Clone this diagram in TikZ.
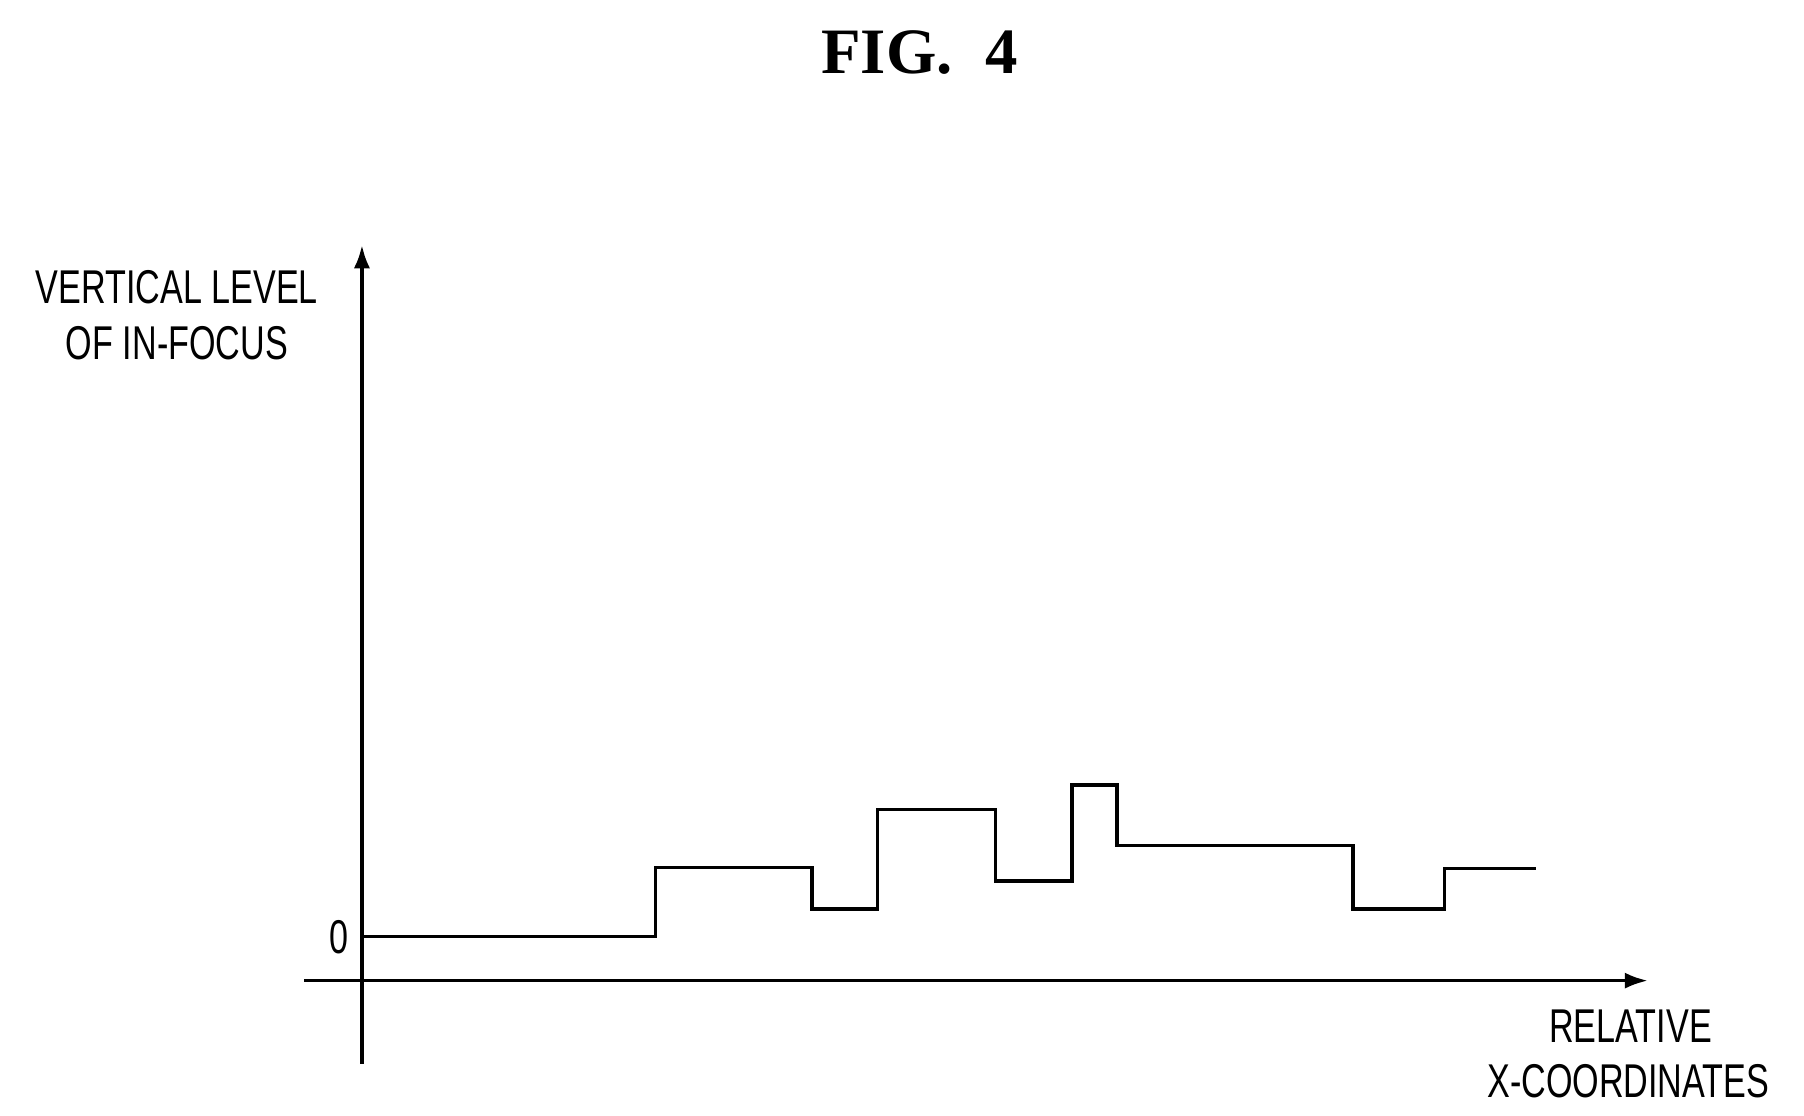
\documentclass[tikz,border=0pt]{standalone}
\usetikzlibrary{arrows.meta}
\usepackage{fontspec}
\setmainfont{Liberation Sans}
\newfontfamily\titlefont{Liberation Serif}
\begin{document}
\begin{tikzpicture}[x=1pt,y=-1pt,line width=3pt,
  lbl/.style={font=\fontsize{41}{41}\selectfont, xscale=0.72, inner sep=0pt}]
\useasboundingbox (0,0) rectangle (1560,965);
\node[font=\titlefont\bfseries\fontsize{56}{56}\selectfont] (title) at (795,45) {FIG.\ \ 4};
\coordinate (ybot) at (313,920); \coordinate (ytop) at (313,212);
\coordinate (xl) at (263,848); \coordinate (xr) at (1425,848);
\draw[-{Latex[length=20pt,width=14pt]}] (ybot) -- (ytop);
\draw[-{Latex[length=20pt,width=14pt]}] (xl) -- (xr);
\draw[line join=miter] (313,810) -| (567,750) -| (702,786) -| (759,700) -| (861,762) -| (927,679) -| (966,731) -| (1170,786) -| (1249,751) -- (1328,751);
\node[lbl] (v1) at (153,248) {VERTICAL LEVEL};
\node[lbl] (v2) at (153,297) {OF IN-FOCUS};
\node[lbl] (zero) at (293,810) {0};
\node[lbl] (r1) at (1410,887) {RELATIVE};
\node[lbl] (r2) at (1408,935) {X-COORDINATES};
\end{tikzpicture}
\end{document}
